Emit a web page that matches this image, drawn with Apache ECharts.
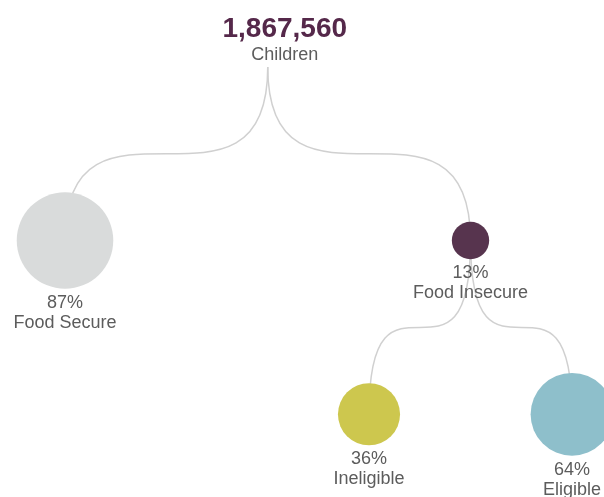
<!DOCTYPE html>
<html>
<head>
<meta charset="utf-8">
<script src="https://cdn.jsdelivr.net/npm/echarts@6/dist/echarts.min.js"></script>
<style>
  html, body { margin: 0; padding: 0; background: #ffffff; }
  #chart { width: 604px; height: 497px; }
</style>
</head>
<body>
<div id="chart"></div>
<script>
// ---- data ----
const totalChildren = 1867560;
const nodeNames   = ['Children', 'Food Secure', 'Food Insecure', 'Ineligible', 'Eligible'];
const nodeShares  = [100, 87, 13, 36, 64];          // percent of parent
const nodeParents = [-1, 0, 0, 2, 2];

// ---- layout & style (not data) ----
const leafX   = { 1: 65, 3: 369, 4: 572 };          // horizontal slots of the leaves (axis units)
const levelY  = [67, 240.5, 414.3];                  // vertical position per depth (axis units)
const nodeColors = ['rgba(0,0,0,0)', '#d9dbdb', '#57344e', '#cdc74e', '#8ebfcb'];
const sizeK = 10.35;                                 // diameter = k * sqrt(share)
const FONT = '"Liberation Sans", Arial, Helvetica, sans-serif';

// compute depth & positions
const n = nodeNames.length;
const depth = nodeNames.map(() => 0);
for (let i = 0; i < n; i++) depth[i] = nodeParents[i] < 0 ? 0 : depth[nodeParents[i]] + 1;
const posX = nodeNames.map((_, i) => leafX[i]);
for (let i = n - 1; i >= 0; i--) {
  const kids = [];
  for (let j = 0; j < n; j++) if (nodeParents[j] === i) kids.push(posX[j]);
  if (kids.length) posX[i] = kids.reduce((a, b) => a + b, 0) / kids.length;
}
const posY = depth.map(d => levelY[d]);

const edgeData = [];
for (let i = 0; i < n; i++) {
  const p = nodeParents[i];
  if (p >= 0) edgeData.push([posX[p], posY[p], posX[i], posY[i]]);
}

const nodeData = [];
for (let i = 1; i < n; i++) {
  nodeData.push({
    value: [posX[i], posY[i], nodeShares[i]],
    name: nodeNames[i],
    itemStyle: { color: nodeColors[i], opacity: 1 }
  });
}

const chart = echarts.init(document.getElementById('chart'), null, { renderer: 'canvas' });
chart.setOption({
  animation: false,
  backgroundColor: '#ffffff',
  grid: { left: 0, right: 0, top: 0, bottom: 0 },
  xAxis: { type: 'value', min: 0, max: 604, show: false },
  yAxis: { type: 'value', min: 0, max: 497, inverse: true, show: false },
  series: [
    {
      type: 'custom',
      silent: true,
      z: 1,
      encode: { x: [0, 2], y: [1, 3] },
      data: edgeData,
      renderItem: function (params, api) {
        const a = api.coord([api.value(0), api.value(1)]);
        const b = api.coord([api.value(2), api.value(3)]);
        return {
          type: 'bezierCurve',
          shape: {
            x1: a[0], y1: a[1], x2: b[0], y2: b[1],
            cpx1: a[0], cpy1: b[1], cpx2: b[0], cpy2: a[1]
          },
          style: { stroke: '#d0d0d0', lineWidth: 1.5, fill: null }
        };
      }
    },
    {
      type: 'scatter',
      z: 3,
      silent: true,
      symbol: 'circle',
      symbolSize: function (val) { return sizeK * Math.sqrt(val[2]); },
      itemStyle: { opacity: 1 },
      data: nodeData,
      label: {
        show: true,
        position: 'bottom',
        distance: 4,
        fontFamily: FONT,
        fontSize: 18,
        lineHeight: 20,
        color: '#5c5c5c',
        formatter: function (p) { return p.value[2] + '%\n' + p.name; }
      },
      emphasis: { disabled: true }
    },
    {
      type: 'scatter',
      z: 4,
      silent: true,
      symbolSize: 0,
      itemStyle: { opacity: 1 },
      data: [{ value: [posX[0], posY[0]], name: nodeNames[0] }],
      label: {
        show: true,
        position: 'top',
        distance: 1,
        offset: [17, 0],
        fontFamily: FONT,
        formatter: function (p) {
          return '{t|' + totalChildren.toLocaleString('en-US') + '}\n{c|' + p.name + '}';
        },
        rich: {
          t: { fontFamily: FONT, fontSize: 28, fontWeight: 'bold', color: '#55284a', lineHeight: 30 },
          c: { fontFamily: FONT, fontSize: 18, color: '#5c5c5c', lineHeight: 22 }
        }
      },
      emphasis: { disabled: true }
    }
  ]
});
</script>
</body>
</html>
